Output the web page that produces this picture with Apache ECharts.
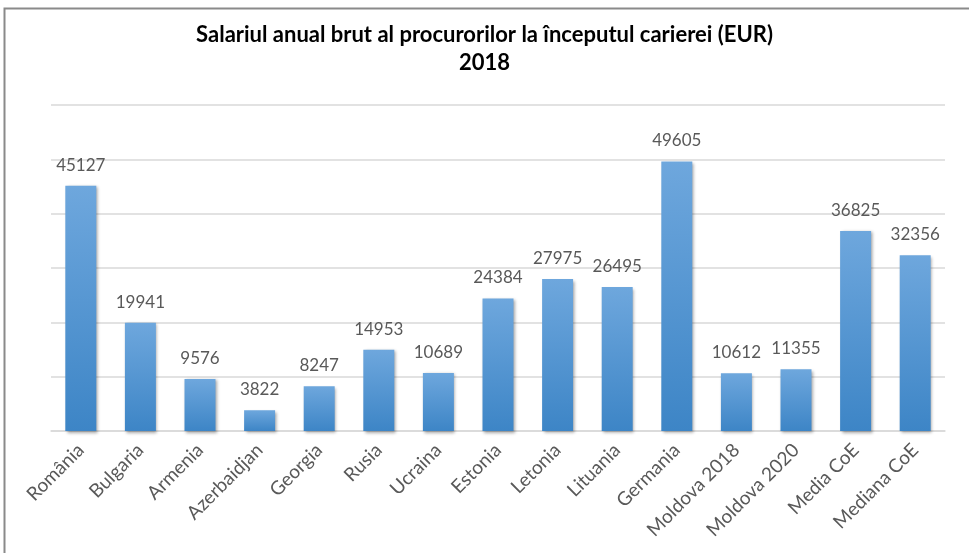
<!DOCTYPE html>
<html>
<head>
<meta charset="utf-8">
<script src="https://cdn.jsdelivr.net/npm/echarts@6/dist/echarts.min.js"></script>
<style>
  html, body { margin: 0; padding: 0; background: #fff; }
  #main { width: 969px; height: 553px; }
</style>
</head>
<body>
<div id="main"></div>
<script>
var categories = ['România', 'Bulgaria', 'Armenia', 'Azerbaidjan', 'Georgia', 'Rusia', 'Ucraina',
  'Estonia', 'Letonia', 'Lituania', 'Germania', 'Moldova 2018', 'Moldova 2020', 'Media CoE', 'Mediana CoE'];
var salaries = [45127, 19941, 9576, 3822, 8247, 14953, 10689, 24384, 27975, 26495, 49605, 10612, 11355, 36825, 32356];

var chart = echarts.init(document.getElementById('main'));
var font = 'Lato, "Open Sans", sans-serif';

chart.setOption({
  backgroundColor: '#fff',
  animation: false,
  title: {
    text: 'Salariul anual brut al procurorilor la începutul carierei (EUR)\n2018',
    left: 'center',
    top: 16,
    textStyle: { fontFamily: font, fontSize: 22, fontWeight: 'bold', color: '#000', lineHeight: 28 }
  },
  graphic: [{
    type: 'polyline',
    shape: { points: [[4.5, 560], [4.5, 8.5], [975, 8.5]] },
    style: { stroke: '#8a8a8a', lineWidth: 2, fill: null }
  }],
  grid: { left: 51, right: 24, top: 105, bottom: 122 },
  xAxis: {
    type: 'category',
    data: categories,
    axisLine: { lineStyle: { color: '#d9d9d9', width: 1.5 } },
    axisTick: { show: false },
    axisLabel: {
      rotate: 45,
      margin: 16,
      interval: 0,
      fontFamily: font,
      fontSize: 19,
      color: '#595959'
    }
  },
  yAxis: {
    type: 'value',
    min: 0,
    max: 60000,
    interval: 10000,
    axisLabel: { show: false },
    axisLine: { show: false },
    axisTick: { show: false },
    splitLine: { lineStyle: { color: '#d9d9d9', width: 1.5 } }
  },
  series: [{
    type: 'bar',
    data: salaries,
    barCategoryGap: '48%',
    itemStyle: {
      color: new echarts.graphic.LinearGradient(0, 0, 0, 1, [
        { offset: 0, color: '#6ea7dd' },
        { offset: 1, color: '#3d85c6' }
      ]),
      shadowColor: 'rgba(0,0,0,0.35)',
      shadowBlur: 3,
      shadowOffsetX: 1.5,
      shadowOffsetY: 1.5
    },
    label: {
      show: true,
      position: 'top',
      distance: 12,
      fontFamily: font,
      fontSize: 17,
      color: '#595959'
    }
  }]
});
</script>
</body>
</html>
